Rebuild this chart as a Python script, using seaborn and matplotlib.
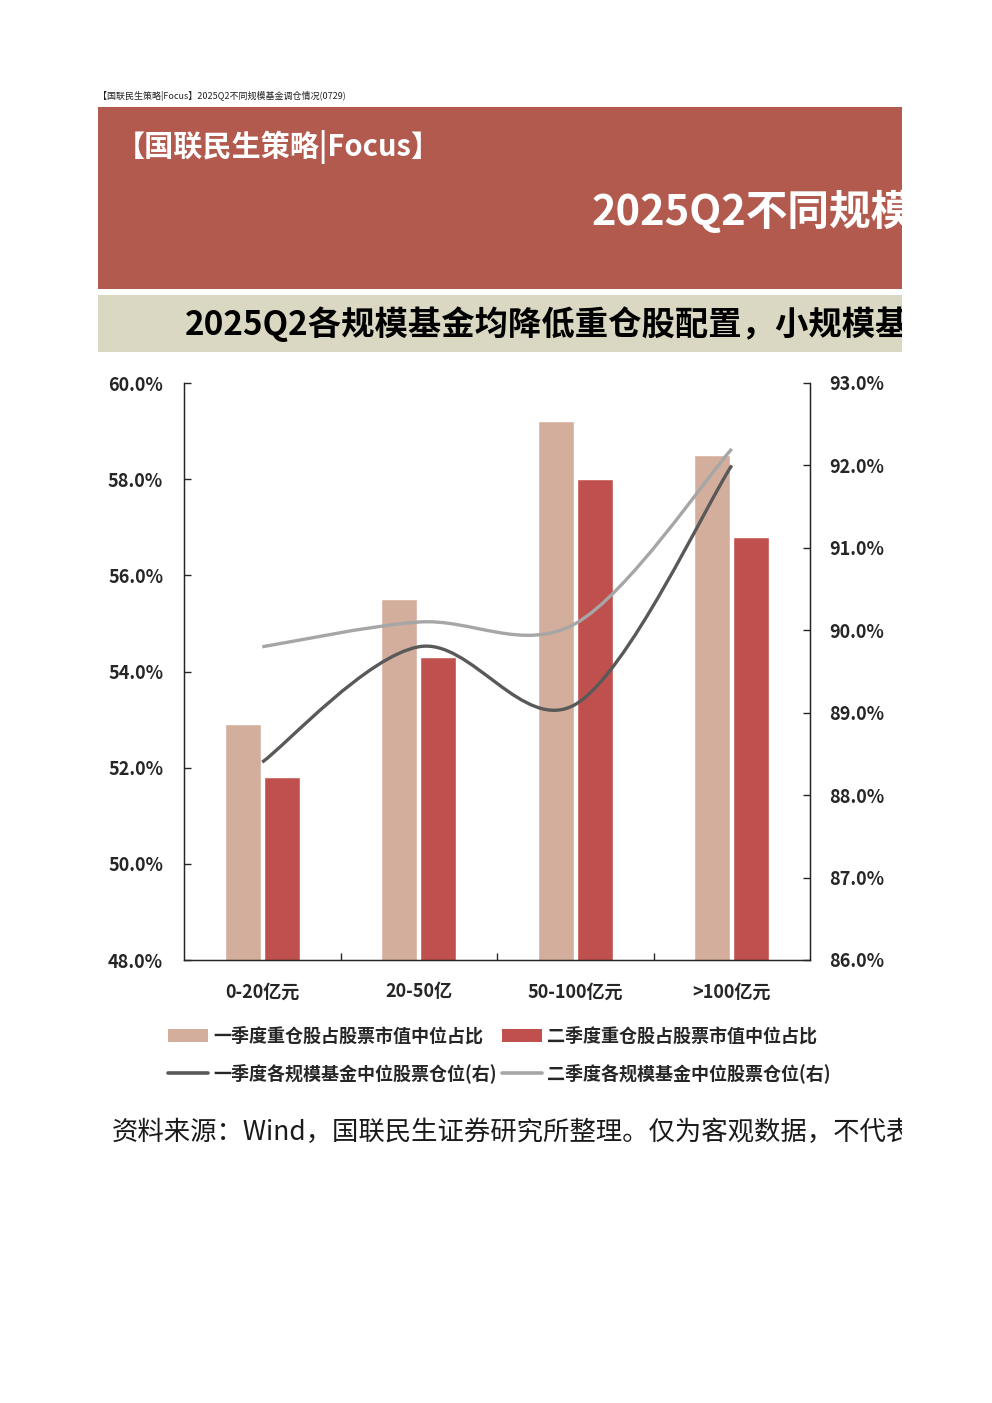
import numpy as np
import pandas as pd
import seaborn as sns
import matplotlib.pyplot as plt
from matplotlib.path import Path
from matplotlib.patches import PathPatch, Rectangle, Patch
from matplotlib.lines import Line2D

# values
cats = ['0-20亿元', '20-50亿', '50-100亿元', '>100亿元']
q1_weight = [52.9, 55.5, 59.2, 58.5]   # left axis, %
q2_weight = [51.8, 54.3, 58.0, 56.8]
q1_pos = [88.4, 89.8, 89.1, 92.0]      # right axis, %
q2_pos = [89.8, 90.1, 90.08, 92.2]

bar_names = ['一季度重仓股占股票市值中位占比', '二季度重仓股占股票市值中位占比']
line_names = ['一季度各规模基金中位股票仓位(右)', '二季度各规模基金中位股票仓位(右)']
left_ticks = [48, 50, 52, 54, 56, 58, 60]
right_ticks = [86, 87, 88, 89, 90, 91, 92, 93]

c_q1bar = '#D4AE9C'
c_q2bar = '#C0504D'
c_q1line = '#595959'
c_q2line = '#A6A6A6'

sns.set_style('white')
plt.rcParams['font.family'] = ['Noto Sans CJK SC', 'DejaVu Sans']
plt.rcParams['axes.unicode_minus'] = False

W, H = 992, 1403
fig = plt.figure(figsize=(W / 100, H / 100), dpi=100)


def fx(px):
    return px / W


def fy(py):
    return 1 - py / H


# header bands (texts run past the right edge of the card and get cut, as in the original)
clip_rect = Rectangle((0, 0), fx(902), 1, transform=fig.transFigure, visible=False)
fig.add_artist(clip_rect)
fig.add_artist(Rectangle((fx(98), fy(289)), fx(902) - fx(98), fy(107) - fy(289),
                         transform=fig.transFigure, fc='#B35A4F', ec='none'))
fig.add_artist(Rectangle((fx(98), fy(352)), fx(902) - fx(98), fy(295) - fy(352),
                         transform=fig.transFigure, fc='#DAD8C2', ec='none'))

fig.text(fx(98), fy(96), '【国联民生策略|Focus】2025Q2不同规模基金调仓情况(0729)',
         fontsize=6.5, va='center', ha='left', color='#222222')
fig.text(fx(116), fy(147), '【国联民生策略|Focus】', fontsize=21, fontweight='bold',
         color='white', va='center', ha='left')
t1 = fig.text(fx(592), fy(212), '2025Q2不同规模基金调仓情况', fontsize=30, fontweight='bold',
              color='white', va='center', ha='left')
t1.set_clip_path(clip_rect)
t2 = fig.text(fx(185), fy(324), '2025Q2各规模基金均降低重仓股配置，小规模基金降幅更大',
              fontsize=24, fontweight='bold', color='black', va='center', ha='left')
t2.set_clip_path(clip_rect)
t3 = fig.text(fx(112), fy(1132), '资料来源：Wind，国联民生证券研究所整理。仅为客观数据，不代表任何投资建议',
              fontsize=19, color='#1a1a1a', va='center', ha='left')
t3.set_clip_path(clip_rect)

# main chart
ax = fig.add_axes([fx(184), fy(960), fx(810) - fx(184), fy(383) - fy(960)])
df = pd.DataFrame({'cat': cats * 2,
                   'val': q1_weight + q2_weight,
                   'q': [bar_names[0]] * 4 + [bar_names[1]] * 4})
sns.barplot(data=df, x='cat', y='val', hue='q', palette=[c_q1bar, c_q2bar],
            width=0.5, gap=0.08, saturation=1, legend=False, ax=ax)
ax.set_ylim(48, 60)
ax.set_xlim(-0.5, 3.5)
ax.set_xlabel('')
ax.set_ylabel('')
ax.set_yticks(left_ticks, labels=[f'{v:.1f}%' for v in left_ticks],
              fontweight='bold', fontsize=13)
ax.set_xticks(range(len(cats)), labels=cats, fontweight='bold', fontsize=13)
ax.set_xticks([0.5, 1.5, 2.5], minor=True)
ax.tick_params(axis='y', direction='in', length=5, width=1, pad=15, left=True)
ax.tick_params(axis='x', which='major', length=0, pad=16)
ax.tick_params(axis='x', which='minor', direction='in', length=5, width=1, bottom=True)
for s in ['left', 'right', 'bottom']:
    ax.spines[s].set_color('#222222')
    ax.spines[s].set_linewidth(1)
ax.spines['top'].set_visible(False)


def smooth_path(xs, ys):
    # smoothed line like the office chart: catmull-rom through the points
    pts = np.column_stack([xs, ys]).astype(float)
    n = len(pts)
    verts = [pts[0]]
    codes = [Path.MOVETO]
    for i in range(n - 1):
        p0 = pts[max(i - 1, 0)]
        p1 = pts[i]
        p2 = pts[i + 1]
        p3 = pts[min(i + 2, n - 1)]
        verts += [p1 + (p2 - p0) / 6, p2 - (p3 - p1) / 6, p2]
        codes += [Path.CURVE4] * 3
    return Path(verts, codes)


ax2 = ax.twinx()
ax2.add_patch(PathPatch(smooth_path(range(len(cats)), q1_pos), fill=False,
                        ec=c_q1line, lw=2.4, capstyle='butt'))
ax2.add_patch(PathPatch(smooth_path(range(len(cats)), q2_pos), fill=False,
                        ec=c_q2line, lw=2.4, capstyle='butt'))
ax2.set_ylim(86, 93)
ax2.set_xlim(-0.5, 3.5)
ax2.set_yticks(right_ticks, labels=[f'{v:.1f}%' for v in right_ticks],
               fontweight='bold', fontsize=13)
ax2.tick_params(axis='y', direction='in', length=5, width=1, pad=14, right=True)
ax2.spines['top'].set_visible(False)
ax2.spines['right'].set_color('#222222')
ax2.grid(False)
ax.grid(False)

handles = [Patch(fc=c_q1bar, ec='none', label=bar_names[0]),
           Line2D([], [], color=c_q1line, lw=2.6, label=line_names[0]),
           Patch(fc=c_q2bar, ec='none', label=bar_names[1]),
           Line2D([], [], color=c_q2line, lw=2.6, label=line_names[1])]
fig.legend(handles=handles, ncol=2, loc='upper left',
           bbox_to_anchor=(fx(168), fy(1027)), frameon=False,
           prop={'weight': 'bold', 'size': 13}, handlelength=2.2, handleheight=0.7,
           handletextpad=0.3, columnspacing=0.3, labelspacing=0.95,
           borderpad=0, borderaxespad=0)

fig.savefig('out.png', dpi=100)
